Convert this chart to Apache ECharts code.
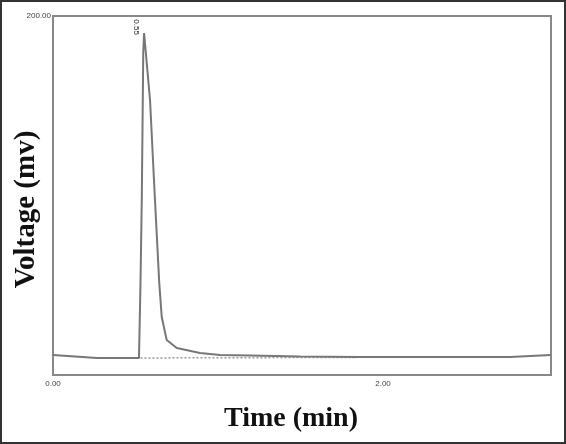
<!DOCTYPE html>
<html><head><meta charset="utf-8">
<script src="https://cdn.jsdelivr.net/npm/echarts@6/dist/echarts.min.js"></script>
<style>html,body{margin:0;padding:0;background:#fff}#c{width:566px;height:444px;box-sizing:border-box;border:2px solid #333}</style>
</head><body><div id="c"></div>
<script>
const timeMin = [0, 0.267, 0.521, 0.530, 0.538, 0.547, 0.552, 0.588, 0.618, 0.644, 0.659, 0.689, 0.750, 0.891, 1.012, 1.194, 1.497, 1.842, 2.770, 2.782, 3.018];
const voltageMv = [11.1, 9.5, 9.5, 50, 97.5, 180, 190.5, 153.2, 97.5, 51.2, 32.3, 19.5, 15.0, 12.3, 11.1, 10.9, 10.3, 10.0, 10.0, 11.1, 11.1];
const baseTime = [0.530, 1.842];
const baseVolt = [9.5, 9.8];
const peakLabel = '0.55';
const xTicks = ['0.00', '2.00'];
const yTicks = ['200.00'];

const chart = echarts.init(document.getElementById('c'));
chart.setOption({
  animation: false,
  grid: {left: 51, right: 13, top: 14, bottom: 67, show: true, borderColor: '#888', borderWidth: 2, outerBoundsMode: 'none', containLabel: false},
  xAxis: {
    type: 'value', min: 0, max: 3.018, interval: 2,
    axisLine: {show: true, lineStyle: {color: '#888', width: 2}},
    axisTick: {show: false}, splitLine: {show: false},
    axisLabel: {showMaxLabel: false, color: '#444', fontSize: 8, fontFamily: 'Liberation Sans', margin: 5,
      formatter: v => v === 0 ? xTicks[0] : (v === 2 ? xTicks[1] : '')},
    name: 'Time (min)', nameLocation: 'middle', nameGap: 30, nameMoveOverlap: false,
    nameTextStyle: {fontFamily: 'Liberation Serif', fontWeight: 'bold', fontSize: 28, color: '#111', padding: [0, 22, 0, 0]}
  },
  yAxis: {
    type: 'value', min: 0, max: 200, interval: 200,
    axisLine: {show: true, lineStyle: {color: '#888', width: 2}},
    axisTick: {show: false}, splitLine: {show: false},
    axisLabel: {showMinLabel: false, color: '#444', fontSize: 8, fontFamily: 'Liberation Sans', margin: 2,
      formatter: v => v === 200 ? yTicks[0] : ''},
    name: 'Voltage (mv)', nameLocation: 'middle', nameGap: 12, nameMoveOverlap: false,
    nameTextStyle: {fontFamily: 'Liberation Serif', fontWeight: 'bold', fontSize: 29, color: '#111', padding: [0, 28, 0, 0]}
  },
  series: [
    {type: 'line', data: timeMin.map((t, i) => [t, voltageMv[i]]), symbol: 'none',
     lineStyle: {color: '#777', width: 2}, z: 3,
     markPoint: {symbol: 'circle', symbolSize: 0, data: [{coord: [0.547, 190.5]}],
       label: {show: true, formatter: peakLabel, rotate: -90, fontSize: 8, color: '#222', offset: [-6, 7], fontFamily: 'Liberation Sans'}}},
    {type: 'line', data: baseTime.map((t, i) => [t, baseVolt[i]]), symbol: 'none',
     lineStyle: {color: '#999', width: 1.5, type: [2, 2]}, z: 2}
  ]
});
</script></body></html>
